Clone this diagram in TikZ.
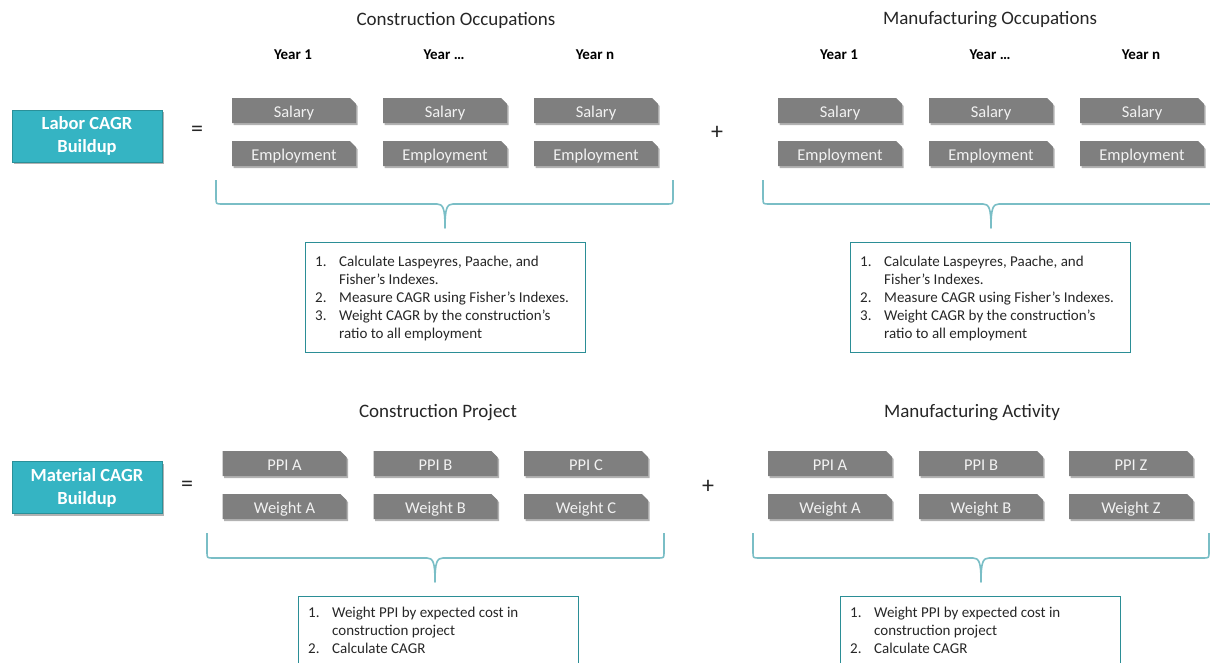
\documentclass[tikz,border=0pt]{standalone}
\usepackage{fontspec}
\setmainfont{Carlito}
\usetikzlibrary{shapes.misc,shadows}
\definecolor{greybox}{HTML}{7F7F7F}
\definecolor{boxtext}{HTML}{F2F2F2}
\definecolor{tealfill}{HTML}{35B4C3}
\definecolor{tealdark}{HTML}{2A9099}
\definecolor{bracecol}{HTML}{7ABEC6}
\definecolor{listborder}{HTML}{2B8E96}
\definecolor{titlecol}{HTML}{262626}
\tikzset{
  gbox/.style={chamfered rectangle, chamfered rectangle corners=north east,
    chamfered rectangle xsep=3pt, chamfered rectangle ysep=3pt,
    fill=greybox, text=boxtext, minimum width=124pt, minimum height=25pt,
    inner sep=0pt, text height=13.5pt, text depth=0pt,
    font=\fontsize{16.5}{18}\selectfont,
    drop shadow={shadow xshift=1.5pt, shadow yshift=-2pt, fill=black, opacity=0.3}},
  cagrbox/.style={rectangle, fill=tealfill, draw=tealdark, line width=1pt,
    minimum width=150pt, minimum height=52pt, inner sep=0pt, text=white,
    align=center, font=\fontsize{18.5}{23}\selectfont\bfseries,
    drop shadow={shadow xshift=2pt, shadow yshift=-2pt, fill=black, opacity=0.3}},
  listbox/.style={rectangle, draw=listborder, line width=0.9pt,
    minimum width=280pt, minimum height=110pt, inner sep=0pt},
  listtext/.style={anchor=north west, inner sep=0pt, align=left, text=black!85,
    font=\fontsize{15}{18}\selectfont},
  titletext/.style={text=titlecol, font=\fontsize{19}{22}\selectfont, inner sep=0pt},
  yeartext/.style={text=black, font=\fontsize{15}{18}\selectfont\bfseries, inner sep=0pt},
  optext/.style={text=black!85, font=\fontsize{24}{26}\selectfont, inner sep=0pt},
  bracestyle/.style={draw=bracecol, line width=1.6pt, line join=round},
}
\newcommand{\numitem}[1]{\makebox[24pt][l]{#1}}
\newcommand{\contline}{\hspace*{24pt}}
\begin{document}
\begin{tikzpicture}[x=1pt,y=-1pt]
\useasboundingbox (0,0) rectangle (1210,662);

% ---------- Labor section ----------
\node[titletext] (t1) at (456,20) {Construction Occupations};
\node[titletext] (t2) at (990,20) {Manufacturing Occupations};

\node[yeartext] (y11) at (293,55) {Year 1};
\node[yeartext] (y12) at (444,55) {Year …};
\node[yeartext] (y13) at (595,55) {Year n};
\node[yeartext] (y21) at (839,55) {Year 1};
\node[yeartext] (y22) at (990,55) {Year …};
\node[yeartext] (y23) at (1141,55) {Year n};

\node[cagrbox] (labor) at (87,136) {Labor CAGR\\Buildup};
\node[optext] (eq1) at (197,131) {=};
\node[optext] (plus1) at (717,133) {+};

\node[gbox] (s11) at (294,110.5) {Salary};
\node[gbox] (s12) at (445,110.5) {Salary};
\node[gbox] (s13) at (596,110.5) {Salary};
\node[gbox] (e11) at (294,153.5) {Employment};
\node[gbox] (e12) at (445,153.5) {Employment};
\node[gbox] (e13) at (596,153.5) {Employment};
\node[gbox] (s21) at (840,110.5) {Salary};
\node[gbox] (s22) at (991,110.5) {Salary};
\node[gbox] (s23) at (1142,110.5) {Salary};
\node[gbox] (e21) at (840,153.5) {Employment};
\node[gbox] (e22) at (991,153.5) {Employment};
\node[gbox] (e23) at (1142,153.5) {Employment};

\coordinate (b1l) at (216,180);
\coordinate (b1r) at (673,180);
\coordinate (b1t) at (445,228);
\draw[bracestyle] (b1l) -- (216,198) .. controls (216,204) .. (222,204) -- (437,204)
  .. controls (443,204) and (445,208) .. (b1t)
  .. controls (445,208) and (447,204) .. (453,204) -- (667,204)
  .. controls (673,204) .. (673,198) -- (b1r);

\coordinate (b2l) at (763,180);
\coordinate (b2r) at (1219,180);
\coordinate (b2t) at (991,228);
\draw[bracestyle] (b2l) -- (763,198) .. controls (763,204) .. (769,204) -- (983,204)
  .. controls (989,204) and (991,208) .. (b2t)
  .. controls (991,208) and (993,204) .. (999,204) -- (1213,204)
  .. controls (1219,204) .. (1219,198) -- (b2r);

\node[listbox] (l1) at (445,297) {};
\node[listtext] (l1t) at (315,255.5) {\numitem{1.}Calculate Laspeyres, Paache, and\\
  \contline Fisher’s Indexes.\\
  \numitem{2.}Measure CAGR using Fisher’s Indexes.\\
  \numitem{3.}Weight CAGR by the construction’s\\
  \contline ratio to all employment};
\node[listbox] (l2) at (990.5,297) {};
\node[listtext] (l2t) at (860,255.5) {\numitem{1.}Calculate Laspeyres, Paache, and\\
  \contline Fisher’s Indexes.\\
  \numitem{2.}Measure CAGR using Fisher’s Indexes.\\
  \numitem{3.}Weight CAGR by the construction’s\\
  \contline ratio to all employment};

% ---------- Material section ----------
\node[titletext] (t3) at (438,413) {Construction Project};
\node[titletext] (t4) at (972,413) {Manufacturing Activity};

\node[cagrbox] (material) at (87,487.5) {Material CAGR\\Buildup};
\node[optext] (eq2) at (187,486) {=};
\node[optext] (plus2) at (708,487) {+};

\node[gbox] (p11) at (284.5,463.5) {PPI A};
\node[gbox] (p12) at (435.5,463.5) {PPI B};
\node[gbox] (p13) at (586,463.5) {PPI C};
\node[gbox] (w11) at (284.5,506.5) {Weight A};
\node[gbox] (w12) at (435.5,506.5) {Weight B};
\node[gbox] (w13) at (586,506.5) {Weight C};
\node[gbox] (p21) at (830,463.5) {PPI A};
\node[gbox] (p22) at (981,463.5) {PPI B};
\node[gbox] (p23) at (1131,463.5) {PPI Z};
\node[gbox] (w21) at (830,506.5) {Weight A};
\node[gbox] (w22) at (981,506.5) {Weight B};
\node[gbox] (w23) at (1131,506.5) {Weight Z};

\coordinate (b3l) at (207,533);
\coordinate (b3r) at (664,533);
\coordinate (b3t) at (435,582);
\draw[bracestyle] (b3l) -- (207,552) .. controls (207,558) .. (213,558) -- (427,558)
  .. controls (433,558) and (435,562) .. (b3t)
  .. controls (435,562) and (437,558) .. (443,558) -- (658,558)
  .. controls (664,558) .. (664,552) -- (b3r);

\coordinate (b4l) at (753,533);
\coordinate (b4r) at (1209,533);
\coordinate (b4t) at (981,582);
\draw[bracestyle] (b4l) -- (753,552) .. controls (753,558) .. (759,558) -- (973,558)
  .. controls (979,558) and (981,562) .. (b4t)
  .. controls (981,562) and (983,558) .. (989,558) -- (1203,558)
  .. controls (1209,558) .. (1209,552) -- (b4r);

\node[listbox] (l3) at (438,651) {};
\node[listtext] (l3t) at (308,606.5) {\numitem{1.}Weight PPI by expected cost in\\
  \contline construction project\\
  \numitem{2.}Calculate CAGR};
\node[listbox] (l4) at (980.5,651) {};
\node[listtext] (l4t) at (850,606.5) {\numitem{1.}Weight PPI by expected cost in\\
  \contline construction project\\
  \numitem{2.}Calculate CAGR};
\end{tikzpicture}
\end{document}
